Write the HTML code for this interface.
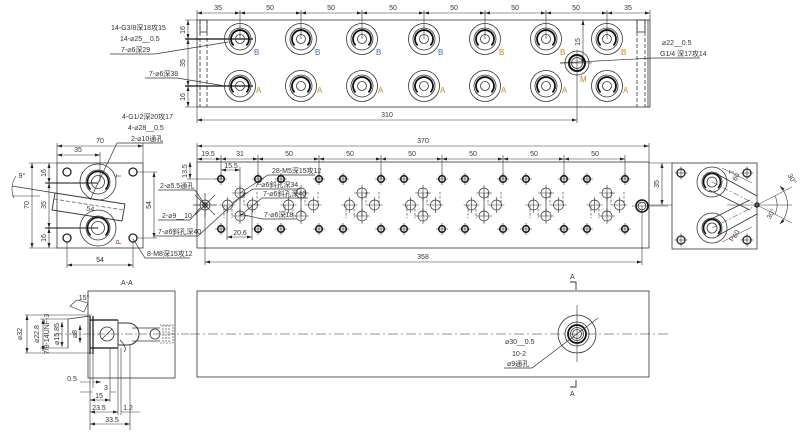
<!DOCTYPE html>
<html><head><meta charset="utf-8">
<style>
html,body{margin:0;padding:0;background:#fff;}
svg{display:block;}
text{font-family:"Liberation Sans Narrow","Liberation Sans","Noto Sans CJK SC",sans-serif;font-size:7px;fill:#333;stroke:none;}
.b{fill:#4a6fb0;font-size:8px;}
.o{fill:#c8862a;font-size:8px;}
.r{fill:#8a3a2a;font-size:7px;}
</style></head><body>
<svg width="800" height="433" viewBox="0 0 800 433" xmlns="http://www.w3.org/2000/svg" xmlns:xlink="http://www.w3.org/1999/xlink">
<defs>
 <marker id="a" markerWidth="5" markerHeight="3" refX="5" refY="1.5" orient="auto-start-reverse" markerUnits="userSpaceOnUse"><path d="M0,0L5,1.5L0,3z" fill="#222"/></marker>
 <g id="tp" fill="none" stroke="#333" stroke-width="0.8">
  <circle r="15.5"/><circle r="11"/>
  <path d="M-6.4 6.4A9 9 0 1 1 6.4 6.4" stroke-width="1.8" stroke="#111"/>
  <circle r="4.5"/>
 </g>
 <g id="m5" fill="none" stroke="#222">
  <circle r="3.3" stroke-width="1.6"/>
  <path d="M-6 0H6M0-6V6" stroke-width="0.6"/>
 </g>
 <g id="h6" fill="none" stroke="#333" stroke-width="0.7">
  <circle r="5"/>
  <path d="M-8 0H8M0-8V8" stroke-width="0.6"/>
 </g>
 <g id="ch" fill="none" stroke="#222">
  <circle r="4" stroke-width="1.3"/>
  <path d="M-6.5 0H6.5M0-6.5V6.5" stroke-width="0.6"/>
 </g>
 <g id="cc" fill="none" stroke="#222">
  <circle r="4" stroke-width="1.3"/>
 </g>
 <g id="lp" fill="none" stroke="#333" stroke-width="0.8">
  <circle r="18"/>
  <path d="M-7.4 7.4A10.5 10.5 0 1 1 7.4 7.4" stroke-width="1.6" stroke="#111"/>
  <circle r="12"/><circle r="6.5"/>
 </g>
 <g id="rp" fill="none" stroke="#333" stroke-width="0.8">
  <circle r="15"/>
  <path d="M-6 6A8.5 8.5 0 1 1 6 6" stroke-width="1.6" stroke="#111"/>
  <circle r="10"/><circle r="5"/>
 </g>
</defs>
<rect width="800" height="433" fill="#fff"/>

<!-- ================= TOP VIEW ================= -->
<g fill="none" stroke="#333" stroke-width="0.8">
 <rect x="197" y="20" width="453" height="87"/>
 <path d="M200 20V107M207 20V107" stroke-dasharray="4 2"/>
 <rect x="200" y="20" width="7" height="12"/>
 <path d="M637 20V107M645 20V107" stroke-dasharray="4 2"/>
 <rect x="637" y="20" width="8" height="12"/>
 <path d="M648 20V107"/>
 <!-- dimension top chain -->
 <path d="M197 10V20M650 10V20M240 10V39M301 10V39M362 10V39M424 10V39M485 10V39M546 10V39M607 10V39" stroke-width="0.6"/>
 <g marker-start="url(#a)" marker-end="url(#a)" stroke-width="0.6">
  <line x1="197" y1="13" x2="240" y2="13"/>
  <line x1="240" y1="13" x2="301" y2="13"/>
  <line x1="301" y1="13" x2="362" y2="13"/>
  <line x1="362" y1="13" x2="424" y2="13"/>
  <line x1="424" y1="13" x2="485" y2="13"/>
  <line x1="485" y1="13" x2="546" y2="13"/>
  <line x1="546" y1="13" x2="607" y2="13"/>
  <line x1="607" y1="13" x2="650" y2="13"/>
  <!-- left vertical -->
  <line x1="188" y1="20" x2="188" y2="39"/>
  <line x1="188" y1="39" x2="188" y2="86"/>
  <line x1="188" y1="86" x2="188" y2="107"/>
  <!-- 310 -->
  <line x1="197" y1="120" x2="577" y2="120"/>
  <!-- M 15 -->
  <line x1="583" y1="20" x2="583" y2="63"/>
 </g>
 <path d="M185 20H197M185 107H197M197 107V123M577 75V123" stroke-width="0.6"/>
 <path d="M185 39H253M185 86H253" stroke-width="1.2" stroke="#111"/>
 <!-- leaders -->
 <path d="M110 54H155L228 42" stroke-width="0.7"/>
 <path d="M145 78H177L225 86" stroke-width="0.7"/>
 <path d="M560 63L653 58H700" stroke-width="0.7"/>
 <!-- M port -->
 <circle cx="577" cy="63" r="12"/>
 <circle cx="577" cy="63" r="8" stroke-width="2" stroke="#111"/>
 <circle cx="577" cy="63" r="5.5"/>
 <path d="M560 63H592M577 50V76" stroke-width="0.6"/>
</g>
<use xlink:href="#tp" x="240" y="39"/><use xlink:href="#tp" x="301" y="39"/><use xlink:href="#tp" x="362" y="39"/><use xlink:href="#tp" x="424" y="39"/><use xlink:href="#tp" x="485" y="39"/><use xlink:href="#tp" x="546" y="39"/><use xlink:href="#tp" x="607" y="39"/>
<use xlink:href="#tp" x="240" y="86"/><use xlink:href="#tp" x="301" y="86"/><use xlink:href="#tp" x="362" y="86"/><use xlink:href="#tp" x="424" y="86"/><use xlink:href="#tp" x="485" y="86"/><use xlink:href="#tp" x="546" y="86"/><use xlink:href="#tp" x="607" y="86"/>
<text class="b" x="254" y="55">B</text><text class="b" x="315" y="55">B</text><text class="b" x="376" y="55">B</text><text class="b" x="438" y="55">B</text><text class="o" x="499" y="55">B</text><text class="o" x="560" y="55">B</text><text class="o" x="621" y="55">B</text>
<text class="o" x="256" y="93">A</text><text class="o" x="317" y="93">A</text><text class="o" x="378" y="93">A</text><text class="o" x="440" y="93">A</text><text class="o" x="501" y="93">A</text><text class="o" x="562" y="93">A</text><text class="o" x="623" y="93">A</text>
<text class="o" x="580" y="82">M</text>
<g text-anchor="middle">
 <text x="218" y="10">35</text><text x="270" y="10">50</text><text x="331" y="10">50</text><text x="393" y="10">50</text><text x="454" y="10">50</text><text x="515" y="10">50</text><text x="576" y="10">50</text><text x="628" y="10">35</text>
 <text transform="translate(185,30) rotate(-90)">16</text>
 <text transform="translate(185,63) rotate(-90)">35</text>
 <text transform="translate(185,97) rotate(-90)">16</text>
 <text transform="translate(580,42) rotate(-90)">15</text>
 <text x="387" y="117">310</text>
</g>
<text x="111" y="30">14-G3/8深18攻15</text>
<text x="120" y="41">14-⌀25__0.5</text>
<text x="121" y="52">7-⌀6深29</text>
<text x="149" y="76">7-⌀6深38</text>
<text x="662" y="45">⌀22__0.5</text>
<text x="660" y="56">G1/4 深17攻14</text>

<!-- ================= LEFT SIDE VIEW ================= -->
<g fill="none" stroke="#333" stroke-width="0.8">
 <rect x="57" y="163" width="86" height="85"/>
 <path d="M57 143V163M143 143V163M100 152V182M29 163H57M29 248H57M137 172H157M137 238H157M67 242V268M133 242V268" stroke-width="0.6"/>
 <path d="M45 183H98M45 228H98" stroke-width="1.1" stroke="#111"/>
 <g marker-start="url(#a)" marker-end="url(#a)" stroke-width="0.6">
  <line x1="57" y1="146" x2="143" y2="146"/>
  <line x1="57" y1="155" x2="100" y2="155"/>
  <line x1="32" y1="163" x2="32" y2="248"/>
  <line x1="49" y1="163" x2="49" y2="183"/>
  <line x1="49" y1="183" x2="49" y2="228"/>
  <line x1="49" y1="228" x2="49" y2="248"/>
  <line x1="154" y1="172" x2="154" y2="238"/>
  <line x1="67" y1="265" x2="133" y2="265"/>
 </g>
 <!-- slanted slot -->
 <path d="M12 186L55 193"/>
 <path d="M55 193L125 204L122 221L52 210Z" stroke-width="0.9"/>
 <path d="M54 199L123 210" stroke-dasharray="4 2" stroke-width="0.6"/>
 <path d="M12 196H40" stroke-width="0.6"/>
 <path d="M16 176A22 22 0 0 0 14 198" stroke-width="0.6"/>
 <!-- leaders -->
 <path d="M163 143H117L90 200" stroke-width="0.7"/>
 <path d="M190 258H145L133 239" stroke-width="0.7"/>
</g>
<use xlink:href="#cc" x="67" y="172"/><use xlink:href="#cc" x="133" y="172"/><use xlink:href="#cc" x="67" y="238"/><use xlink:href="#cc" x="133" y="238"/>
<use xlink:href="#lp" x="98" y="182"/><use xlink:href="#lp" x="98" y="228"/>
<g text-anchor="middle">
 <text x="100" y="143">70</text>
 <text x="78" y="152">35</text>
 <text transform="translate(29,205) rotate(-90)">70</text>
 <text transform="translate(46,173) rotate(-90)">16</text>
 <text transform="translate(46,205) rotate(-90)">35</text>
 <text transform="translate(46,238) rotate(-90)">16</text>
 <text transform="translate(151,205) rotate(-90)">54</text>
 <text x="100" y="262">54</text>
 <text transform="translate(90,211) rotate(9)">54</text>
 <text x="22" y="178">9°</text>
 <text class="r" transform="translate(121,176) rotate(-90)">T</text>
 <text class="r" transform="translate(121,242) rotate(-90)">P</text>
</g>
<text x="122" y="119">4-G1/2深20攻17</text>
<text x="128" y="130">4-⌀28__0.5</text>
<text x="131" y="141">2-⌀10通孔</text>
<text x="147" y="256">8-M8深15攻12</text>

<!-- ================= FRONT VIEW ================= -->
<g fill="none" stroke="#333" stroke-width="0.8">
 <rect x="197" y="162" width="452" height="86"/>
 <path d="M197 143V162M649 143V162M649 163H672M649 205H672M205 205V265M642 206V265" stroke-width="0.6"/>
 <path d="M221 155V179M258 155V179M319 155V179M381 155V179M442 155V179M503 155V179M564 155V179M625 155V179" stroke-width="0.6"/>
 <path d="M187 179H221M240 167V193M227 205V240M252 205V240" stroke-width="0.6"/>
 <g marker-start="url(#a)" marker-end="url(#a)" stroke-width="0.6">
  <line x1="197" y1="146" x2="649" y2="146"/>
  <line x1="197" y1="159" x2="221" y2="159"/>
  <line x1="221" y1="159" x2="258" y2="159"/>
  <line x1="258" y1="159" x2="319" y2="159"/>
  <line x1="319" y1="159" x2="381" y2="159"/>
  <line x1="381" y1="159" x2="442" y2="159"/>
  <line x1="442" y1="159" x2="503" y2="159"/>
  <line x1="503" y1="159" x2="564" y2="159"/>
  <line x1="564" y1="159" x2="625" y2="159"/>
  <line x1="190" y1="162" x2="190" y2="179"/>
  <line x1="221" y1="170" x2="240" y2="170"/>
  <line x1="227" y1="237" x2="252" y2="237"/>
  <line x1="205" y1="262" x2="642" y2="262"/>
  <line x1="662" y1="163" x2="662" y2="205"/>
 </g>
 <!-- group verticals -->
 <path d="M240 193V216M301 193V216M362 193V216M423 193V216M484 193V216M546 193V216M607 193V216" stroke-width="0.7"/>
 <path stroke-dasharray="2.5 1.5" stroke-width="0.6" d="M224 205V218M232 205V218M244 192V205M257 192V205M285 205V218M293 205V218M305 192V205M318 192V205M346 205V218M354 205V218M366 192V205M379 192V205M407 205V218M415 205V218M427 192V205M440 192V205M468 205V218M476 205V218M488 192V205M501 192V205M530 205V218M538 205V218M550 192V205M563 192V205M591 205V218M599 205V218M611 192V205M624 192V205"/>
 <!-- star -->
 <circle cx="205" cy="205" r="5"/>
 <circle cx="205" cy="205" r="2.2" stroke-width="1.2"/>
 <path d="M195 195L215 215M195 215L215 195M193 205H217M205 193V217" stroke-width="0.7"/>
 <!-- M port side -->
 <circle cx="642" cy="206" r="6" stroke-width="1.6" stroke="#111"/>
 <circle cx="642" cy="206" r="3.8"/>
 <path d="M632 206H668" stroke-width="0.6"/>
 <!-- leaders -->
 <path d="M158 190H195L205 205" stroke-width="0.7"/>
 <path d="M158 220H190L200 208" stroke-width="0.7"/>
 <path d="M155 236H198L245 193" stroke-width="0.7"/>
 <path d="M300 189H253L232 203" stroke-width="0.7"/>
 <path d="M308 198H262L240 216" stroke-width="0.7"/>
 <path d="M296 219H262L240 214" stroke-width="0.7"/>
 <path d="M315 175H268L240 193" stroke-width="0.7"/>
</g>
<use xlink:href="#m5" x="221" y="179"/><use xlink:href="#m5" x="258" y="179"/><use xlink:href="#m5" x="281" y="179"/><use xlink:href="#m5" x="319" y="179"/><use xlink:href="#m5" x="343" y="179"/><use xlink:href="#m5" x="381" y="179"/><use xlink:href="#m5" x="404" y="179"/><use xlink:href="#m5" x="442" y="179"/><use xlink:href="#m5" x="465" y="179"/><use xlink:href="#m5" x="503" y="179"/><use xlink:href="#m5" x="526" y="179"/><use xlink:href="#m5" x="564" y="179"/><use xlink:href="#m5" x="587" y="179"/><use xlink:href="#m5" x="625" y="179"/>
<use xlink:href="#m5" x="221" y="229"/><use xlink:href="#m5" x="258" y="229"/><use xlink:href="#m5" x="281" y="229"/><use xlink:href="#m5" x="319" y="229"/><use xlink:href="#m5" x="343" y="229"/><use xlink:href="#m5" x="381" y="229"/><use xlink:href="#m5" x="404" y="229"/><use xlink:href="#m5" x="442" y="229"/><use xlink:href="#m5" x="465" y="229"/><use xlink:href="#m5" x="503" y="229"/><use xlink:href="#m5" x="526" y="229"/><use xlink:href="#m5" x="564" y="229"/><use xlink:href="#m5" x="587" y="229"/><use xlink:href="#m5" x="625" y="229"/>
<use xlink:href="#h6" x="240" y="193"/><use xlink:href="#h6" x="240" y="216"/><use xlink:href="#h6" x="227.5" y="205"/><use xlink:href="#h6" x="252.5" y="205"/>
<use xlink:href="#h6" x="301" y="193"/><use xlink:href="#h6" x="301" y="216"/><use xlink:href="#h6" x="288.5" y="205"/><use xlink:href="#h6" x="313.5" y="205"/>
<use xlink:href="#h6" x="362" y="193"/><use xlink:href="#h6" x="362" y="216"/><use xlink:href="#h6" x="349.5" y="205"/><use xlink:href="#h6" x="374.5" y="205"/>
<use xlink:href="#h6" x="423" y="193"/><use xlink:href="#h6" x="423" y="216"/><use xlink:href="#h6" x="410.5" y="205"/><use xlink:href="#h6" x="435.5" y="205"/>
<use xlink:href="#h6" x="484" y="193"/><use xlink:href="#h6" x="484" y="216"/><use xlink:href="#h6" x="471.5" y="205"/><use xlink:href="#h6" x="496.5" y="205"/>
<use xlink:href="#h6" x="546" y="193"/><use xlink:href="#h6" x="546" y="216"/><use xlink:href="#h6" x="533.5" y="205"/><use xlink:href="#h6" x="558.5" y="205"/>
<use xlink:href="#h6" x="607" y="193"/><use xlink:href="#h6" x="607" y="216"/><use xlink:href="#h6" x="594.5" y="205"/><use xlink:href="#h6" x="619.5" y="205"/>
<g text-anchor="middle">
 <text x="423" y="143">370</text>
 <text x="208" y="156">19.5</text>
 <text x="240" y="156">31</text>
 <text x="289" y="156">50</text><text x="350" y="156">50</text><text x="412" y="156">50</text><text x="473" y="156">50</text><text x="534" y="156">50</text><text x="595" y="156">50</text>
 <text transform="translate(187,171) rotate(-90)">13.5</text>
 <text x="231" y="168">15.5</text>
 <text x="240" y="235">20.6</text>
 <text x="423" y="259">358</text>
 <text transform="translate(659,184) rotate(-90)">35</text>
</g>
<text x="160" y="188">2-⌀5.5通孔</text>
<text x="162" y="218">2-⌀9__10</text>
<text x="158" y="234">7-⌀6斜孔深40</text>
<text x="255" y="187">7-⌀6斜孔深34</text>
<text x="263" y="196">7-⌀6斜孔深40</text>
<text x="264" y="217">7-⌀6深18</text>
<text x="272" y="173">28-M5深15攻12</text>

<!-- ================= RIGHT SIDE VIEW ================= -->
<g fill="none" stroke="#333" stroke-width="0.8">
 <rect x="672" y="163" width="85" height="86"/>
 <path d="M717 174L757 196M709 190L750 210M709 220L750 200M717 236L757 214" stroke-width="0.8"/>
 <path d="M712 182L757 205L712 228" stroke-dasharray="6 2 2 2" stroke-width="0.5"/>
 <path d="M727 205H792" stroke-width="0.6"/>
 <path d="M757 205L792 187M757 205L792 223" stroke-width="0.5"/>
 <path d="M780 186A28 28 0 0 1 780 224" stroke-width="0.6" marker-start="url(#a)" marker-end="url(#a)"/>
 <path d="M775 196A20 20 0 0 1 775 214" stroke-width="0.6"/>
 <path d="M722 168L752 183M722 242L752 227" stroke-width="0.5"/>
 <circle cx="757" cy="205" r="2" stroke-width="1.2" stroke="#111"/>
</g>
<use xlink:href="#ch" x="681" y="173"/><use xlink:href="#ch" x="747" y="173"/><use xlink:href="#ch" x="681" y="240"/><use xlink:href="#ch" x="747" y="240"/>
<use xlink:href="#rp" x="712" y="182"/><use xlink:href="#rp" x="712" y="228"/>
<g text-anchor="middle">
 <text transform="translate(738,178) rotate(-63)">60</text>
 <text transform="translate(738,235) rotate(-63)">60</text>
 <text transform="translate(790,180) rotate(60)">30°</text>
 <text transform="translate(773,215) rotate(-60)">30°</text>
 <text class="r" transform="translate(734,172) rotate(-90)">T</text>
 <text class="r" transform="translate(734,240) rotate(-60)">P</text>
</g>

<!-- ================= SECTION A-A ================= -->
<text x="121" y="285">A-A</text>
<g fill="none" stroke="#333" stroke-width="0.8">
 <rect x="88" y="291" width="87" height="87"/>
 <path d="M55 334H190" stroke-dasharray="8 2 2 2" stroke-width="0.5"/>
 <path d="M25 315H92M25 353H92M40 319H68M40 348H68" stroke-width="0.6"/>
 <g marker-start="url(#a)" marker-end="url(#a)" stroke-width="0.6">
  <line x1="27" y1="315" x2="27" y2="353"/>
  <line x1="43" y1="319" x2="43" y2="351"/>
  <line x1="62" y1="322" x2="62" y2="347"/>
  <line x1="80" y1="325" x2="80" y2="343"/>
 </g>
 <path d="M68 319V348M68 319L90 316" stroke-width="0.8"/>
 <path d="M90 320H118M90 348H118M90 316V354M93 316V354" stroke-width="1.2" stroke="#111"/>
 <path d="M118 323H128A11 11 0 0 1 128 345H118Z" stroke-width="1"/>
 <path d="M118 320V348" stroke-width="0.8"/>
 <circle cx="107" cy="334" r="7"/>
 <path d="M102 339L112 329" stroke-width="0.6"/>
 <path d="M132 328H160M132 341H160" stroke-width="0.8"/>
 <circle cx="155" cy="334" r="5"/>
 <path d="M160 325H173V343H160M163 325V343M166 325V343M169 325V343" stroke-width="0.6" stroke-dasharray="2 1"/>
 <path d="M120 340Q128 348 124 352" stroke-width="0.8"/>
 <path d="M70 306L77 300L88 303L84 312Z" stroke-width="0.6"/>
 <!-- bottom ext lines -->
 <path d="M90 354V430M93 354V388M110 348V402M118 348V415M121 348V415M130 345V430" stroke-width="0.6"/>
 <g stroke-width="0.6">
  <path d="M80 382H90M93 382H101" marker-end="url(#a)"/>
  <path d="M80 392H93M110 392H116"/>
 </g>
 <g marker-start="url(#a)" marker-end="url(#a)" stroke-width="0.6">
  <line x1="90" y1="400" x2="110" y2="400"/>
  <line x1="90" y1="412" x2="118" y2="412"/>
  <line x1="90" y1="424" x2="130" y2="424"/>
 </g>
 <path d="M121 412H140" stroke-width="0.6"/>
</g>
<g text-anchor="middle">
 <text transform="translate(22,334) rotate(-90)">⌀32</text>
 <text transform="translate(39,334) rotate(-90)">⌀22.8</text>
 <text transform="translate(49,334) rotate(-90)">7/8-14UNF-3</text>
 <text transform="translate(59,334) rotate(-90)">⌀15.85</text>
 <text transform="translate(77,334) rotate(-90)">⌀8</text>
 <text x="84" y="300">15°</text>
 <text x="72" y="381">0.5</text>
 <text x="106" y="390">3</text>
 <text x="99" y="398">15</text>
 <text x="99" y="410">23.5</text>
 <text x="128" y="410">1.2</text>
 <text x="112" y="422">33.5</text>
</g>

<!-- ================= BOTTOM VIEW ================= -->
<g fill="none" stroke="#333" stroke-width="0.8">
 <rect x="197" y="291" width="452" height="86"/>
 <path d="M190 334H670" stroke-dasharray="10 3 2 3" stroke-width="0.6"/>
 <path d="M577 305V362" stroke-width="0.6"/>
 <circle cx="577" cy="334" r="19"/>
 <circle cx="577" cy="334" r="12"/>
 <circle cx="577" cy="334" r="9" stroke-width="1.8" stroke="#111"/>
 <circle cx="577" cy="334" r="6.5"/>
 <circle cx="577" cy="334" r="4.5"/>
 <path d="M504 368H532L598 318" stroke-width="0.7"/>
 <path d="M570 282H576V290M570 387H576V380" stroke-width="0.9"/>
</g>
<text x="505" y="344">⌀30__0.5</text>
<text x="512" y="356">10-2</text>
<text x="507" y="366">⌀9通孔</text>
<text x="570" y="279">A</text>
<text x="570" y="396">A</text>
</svg>
</body></html>
